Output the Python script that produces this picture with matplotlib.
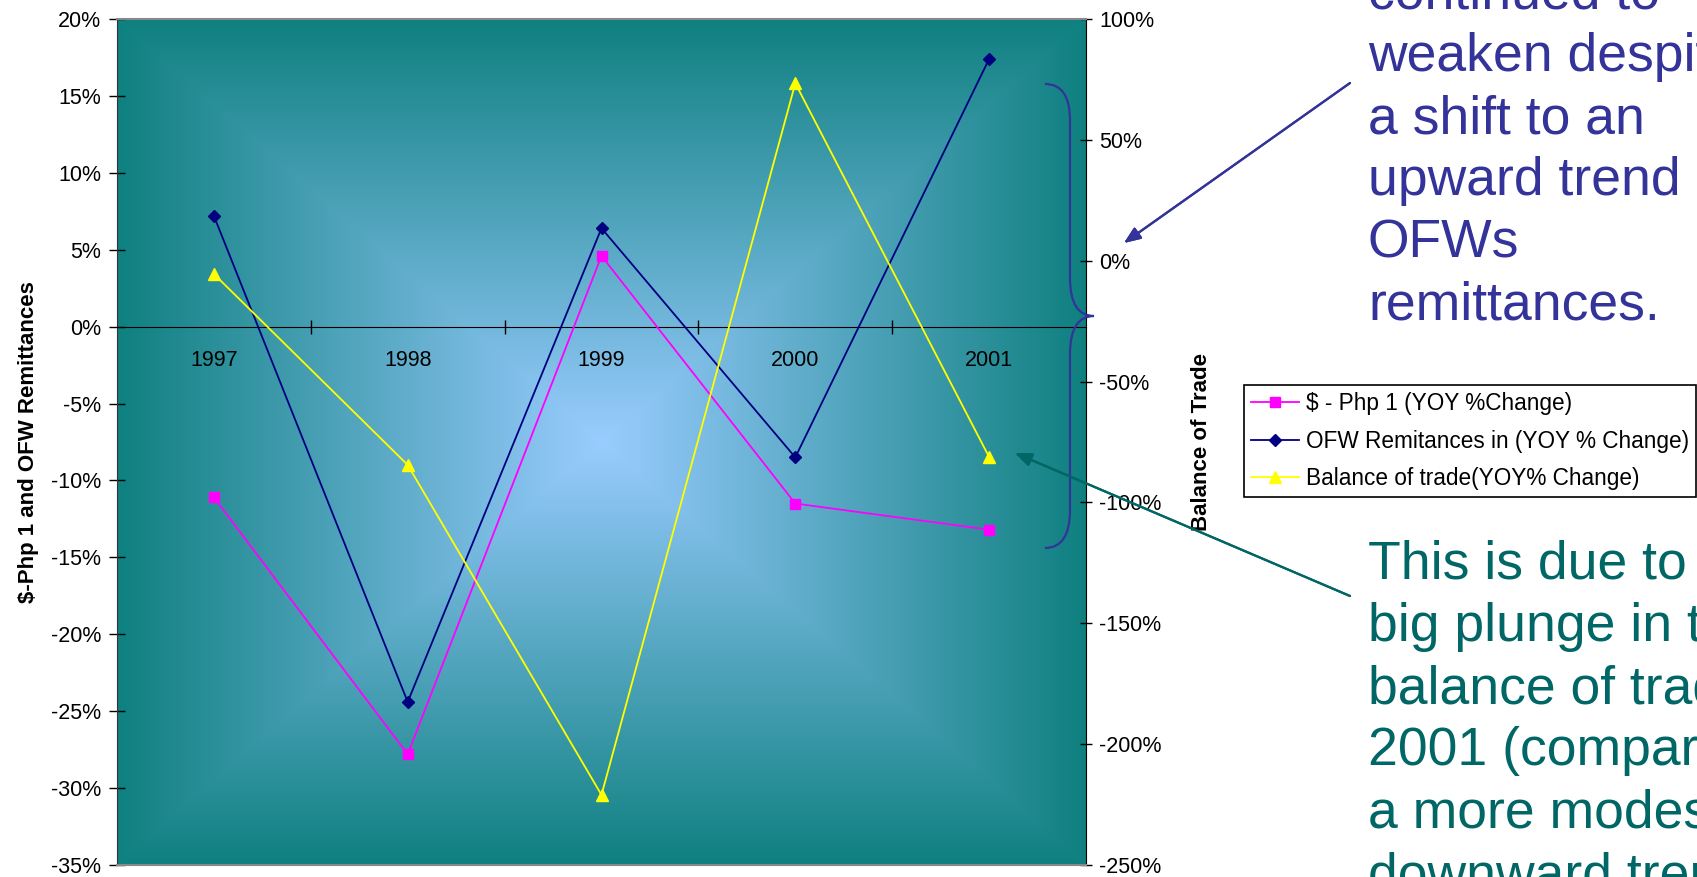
import numpy as np
import matplotlib
matplotlib.use("Agg")
import matplotlib.pyplot as plt
from matplotlib.path import Path
from matplotlib.patches import PathPatch
from matplotlib.ticker import FixedLocator, FuncFormatter, MultipleLocator
from matplotlib.transforms import Affine2D

plt.rcParams['font.family'] = ['Liberation Sans', 'DejaVu Sans']
plt.rcParams['axes.unicode_minus'] = False

# --- data (YOY % change) ---
years = ['1997', '1998', '1999', '2000', '2001']
php_change = [-11.1, -27.8, 4.6, -11.5, -13.2]
ofw_change = [7.2, -24.4, 6.4, -8.5, 17.4]
trade_change = [-5.5, -84.5, -221.0, 73.4, -81.2]

W, H = 1697, 877
fig = plt.figure(figsize=(W / 100, H / 100), dpi=100)
ax1 = fig.add_axes([117 / W, 1 - 865 / H, (1086 - 117) / W, (865 - 19) / H])
ax2 = ax1.twinx()
ax2.patch.set_visible(False)

# rectangular "from centre" gradient fill of the plot area
u = np.linspace(-1, 1, 600)
v = np.linspace(-1, 1, 400)
t = np.maximum(np.abs(u)[None, :], np.abs(v)[:, None])
centre = np.array([153, 204, 255]) / 255
edge = np.array([15, 128, 128]) / 255
grad = centre[None, None, :] * (1 - t[..., None]) + edge[None, None, :] * t[..., None]
ax1.imshow(grad, extent=[0, 1, 0, 1], transform=ax1.transAxes, aspect='auto', zorder=0)

x = np.arange(len(years))
lw = 1.3
l1, = ax1.plot(x, php_change, color='#FF00FF', lw=lw, marker='s', ms=7, mec='#FF00FF',
               label='$ - Php 1 (YOY %Change)', zorder=3)
l2, = ax1.plot(x, ofw_change, color='#000080', lw=lw, marker='D', ms=6.5, mec='#000080',
               label='OFW Remitances in (YOY % Change)', zorder=3)
l3, = ax2.plot(x, trade_change, color='#FFFF00', lw=lw, marker='^', ms=9, mec='#FFFF00',
               label='Balance of trade(YOY% Change)', zorder=3)

ax1.set_xlim(-0.5, 4.5)
ax1.set_ylim(-35, 20)
ax2.set_ylim(-250, 100)
ax1.yaxis.set_major_locator(MultipleLocator(5))
ax2.yaxis.set_major_locator(MultipleLocator(50))
pct = FuncFormatter(lambda val, pos: f"{val:.0f}%")
ax1.yaxis.set_major_formatter(pct)
ax2.yaxis.set_major_formatter(pct)

# category axis crosses at 0
ax1.spines['bottom'].set_position(('data', 0))
ax1.spines['bottom'].set_color('black')
ax1.spines['top'].set_visible(False)
ax1.spines['right'].set_visible(False)
ax1.spines['left'].set_color('#333333')
ax2.spines['left'].set_visible(False)
ax2.spines['top'].set_color('#888888')
ax2.spines['bottom'].set_color('#888888')
ax2.spines['right'].set_color('black')
for sp in ['top', 'bottom']:
    ax2.spines[sp].set_linewidth(1.5)

ax1.xaxis.set_major_locator(FixedLocator([0.5, 1.5, 2.5, 3.5]))
ax1.xaxis.set_major_formatter(FuncFormatter(lambda val, pos: ''))
ax1.xaxis.set_minor_locator(FixedLocator(x))
ax1.xaxis.set_minor_formatter(FuncFormatter(lambda val, pos: years[int(round(val))]))
ax1.tick_params(axis='x', which='major', direction='inout', length=10, width=1)
ax1.tick_params(axis='x', which='minor', length=0, pad=17, labelsize=15.5)
ax1.tick_params(axis='y', direction='inout', length=11, width=1, pad=6, labelsize=15.5)
ax2.tick_params(axis='y', direction='inout', length=9, width=1, pad=5, labelsize=15.5)
ax2.tick_params(axis='x', length=0, labelbottom=False)

ax1.set_ylabel('$-Php 1 and OFW Remittances', fontsize=16, fontweight='bold')
ax1.yaxis.set_label_coords(-0.080, 0.5)
ax2.set_ylabel('Balance of Trade', fontsize=16, fontweight='bold')
ax2.yaxis.set_label_coords(1.108, 0.5)

fig.legend(handles=[l1, l2, l3], loc='upper left', bbox_to_anchor=(1244 / W, 1 - 385 / H),
           fontsize=16.3, frameon=True, fancybox=False, edgecolor='black', framealpha=1,
           handlelength=2.1, handletextpad=0.3, labelspacing=0.64, borderpad=0.32,
           borderaxespad=0)
fig.legends[0].get_frame().set_linewidth(1.2)

# curly brace next to the right axis
px = Affine2D().scale(1 / W, -1 / H).translate(0, 1) + fig.transFigure
verts = [(1045, 84), (1070, 84), (1070, 120), (1070, 278), (1070, 316), (1094, 316),
         (1070, 316), (1070, 354), (1070, 510), (1070, 548), (1045, 548)]
codes = [Path.MOVETO, Path.CURVE3, Path.CURVE3, Path.LINETO, Path.CURVE3, Path.CURVE3,
         Path.CURVE3, Path.CURVE3, Path.LINETO, Path.CURVE3, Path.CURVE3]
fig.add_artist(PathPatch(Path(verts, codes), transform=px, fill=False,
                         edgecolor='#333399', lw=1.6))

# callout texts with arrows
big = dict(fontsize=38.5, linespacing=1.315, ha='left', va='baseline')
fig.text(1368 / W, 1 - 320 / H,
         'continued to\nweaken despite\na shift to an\nupward trend\nOFWs\nremittances.',
         color='#333399', **big)
fig.text(1368 / W, 1 - 890 / H,
         'This is due to the\nbig plunge in the\nbalance of trade in\n2001 (compared to\n'
         'a more modest\ndownward trend',
         color='#006666', **big)

head = '-|>,head_length=1.0,head_width=0.4'
fig.add_artist(plt.annotate('', xy=(1124, H - 243), xytext=(1350, H - 83),
                            xycoords='figure pixels', textcoords='figure pixels',
                            arrowprops=dict(arrowstyle=head, color='#333399', lw=1.6,
                                            shrinkA=0, shrinkB=0)))
fig.add_artist(plt.annotate('', xy=(1015, H - 453), xytext=(1350, H - 596),
                            xycoords='figure pixels', textcoords='figure pixels',
                            arrowprops=dict(arrowstyle=head, color='#006666', lw=1.6,
                                            shrinkA=0, shrinkB=0)))

fig.savefig('out.png', dpi=100)
